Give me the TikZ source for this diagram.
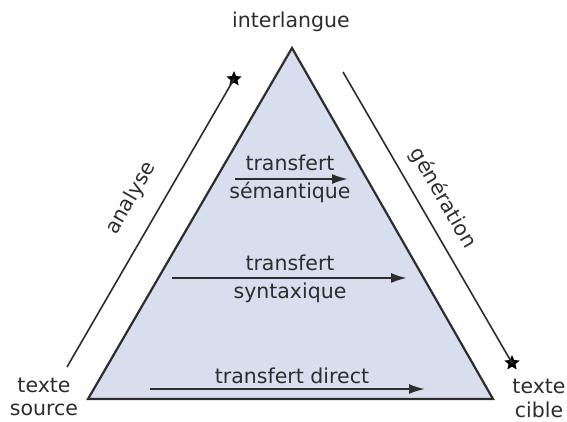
\documentclass[tikz,border=0pt]{standalone}
\usepackage{fontspec}
\setmainfont{DejaVu Sans}
\usetikzlibrary{arrows.meta,shapes.geometric,positioning}
\definecolor{triblue}{RGB}{216,222,238}
\definecolor{ink}{RGB}{45,45,45}

\begin{document}
\begin{tikzpicture}[x=1pt,y=-1pt,
%defines
  lbl/.style={font=\fontsize{20.5}{23}\selectfont,text=ink,align=center,inner sep=0pt},
  tri/.style={draw=ink,line width=2.2pt,fill=triblue,line join=miter},
  xfer/.style={-{Latex[length=16pt,width=10pt]},line width=2pt,draw=ink},
  side/.style={line width=1.6pt,draw=ink},
  tipstar/.style={star,star points=5,star point ratio=2.2,fill=black,
    inner sep=0pt,minimum size=16pt}]
\useasboundingbox (0,0) rectangle (567,421);
% triangle
\coordinate (src) at (88,399);
\coordinate (tgt) at (493,399);
\coordinate (top) at (292,48);
\draw[tri] (src) -- (tgt) -- (top) -- cycle;
% corner labels
\node[lbl] (inter) at (291,22) {interlangue};
\node[lbl] (source) at (44,397) {texte\\source};
\node[lbl,font=\fontsize{20.5}{24}\selectfont] (cible) at (539,398) {texte\\cible};
% analyse / generation
\coordinate (ana start) at (67,367);
\node[tipstar] (ana tip) at (234,79) {};
\draw[side] (ana start) -- (ana tip.center);
\node[lbl,rotate=60] (ana) at (131,198) {analyse};
\coordinate (gen start) at (343,72);
\node[tipstar] (gen tip) at (512,363) {};
\draw[side] (gen start) -- (gen tip.center);
\node[lbl,rotate=-60] (gen) at (443,198) {génération};
% transfers
\node[lbl,font=\fontsize{20.5}{28}\selectfont] (sem) at (290,179) {transfert\\sémantique};
\coordinate (sem w) at (235,179);
\coordinate (sem e) at (348,179);
\draw[xfer] (sem w) -- (sem e);
\node[lbl,font=\fontsize{20.5}{28}\selectfont] (syn) at (290,279) {transfert\\syntaxique};
\coordinate (syn w) at (172,278);
\coordinate (syn e) at (407,278);
\draw[xfer] (syn w) -- (syn e);
\node[lbl] (dir) at (292,376) {transfert direct};
\coordinate (dir w) at (150,389);
\coordinate (dir e) at (425,389);
\draw[xfer] (dir w) -- (dir e);
\end{tikzpicture}
\end{document}
